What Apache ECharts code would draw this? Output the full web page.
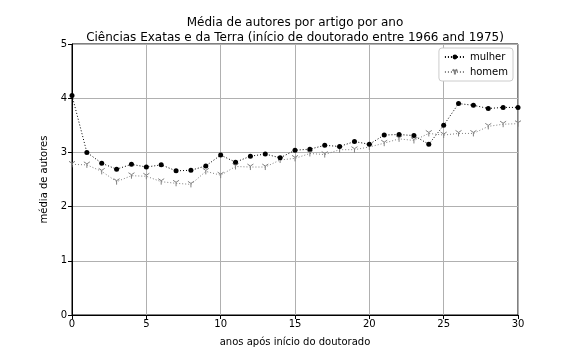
<!DOCTYPE html>
<html>
<head>
<meta charset="utf-8">
<script src="https://cdn.jsdelivr.net/npm/echarts@6/dist/echarts.min.js"></script>
<style>
  html, body { margin: 0; padding: 0; background: #fff; }
  #chart { width: 576px; height: 360px; }
</style>
</head>
<body>
<div id="chart"></div>
<script>
// anos apos inicio do doutorado
var anos = [0, 1, 2, 3, 4, 5, 6, 7, 8, 9, 10, 11, 12, 13, 14, 15,
  16, 17, 18, 19, 20, 21, 22, 23, 24, 25, 26, 27, 28, 29, 30]
var mulher = [4.05, 3.0, 2.80, 2.69, 2.78, 2.73, 2.77, 2.66, 2.67, 2.75, 2.95,
  2.82, 2.93, 2.97, 2.90, 3.04, 3.06, 3.13, 3.11, 3.20, 3.15,
  3.32, 3.33, 3.31, 3.15, 3.50, 3.90, 3.87, 3.81, 3.83, 3.83]
var homem = [2.78, 2.77, 2.65, 2.46, 2.57, 2.56, 2.46, 2.43, 2.41, 2.65, 2.58,
  2.74, 2.73, 2.73, 2.86, 2.89, 2.98, 2.96, 3.05, 3.05, 3.10,
  3.17, 3.25, 3.22, 3.35, 3.32, 3.35, 3.35, 3.48, 3.52, 3.53]

function pares(ys) {
  return anos.map(function(x, i) { return [x, ys[i]] })
}

var fonte = 'DejaVu Sans'
var triDown = 'path://M5,5 L5,10 M5,5 L0.67,2.5 M5,5 L9.33,2.5'

var myChart = echarts.init(document.getElementById('chart'))
myChart.setOption({
  backgroundColor: '#fff',
  animation: false,
  textStyle: { fontFamily: fonte },
  title: {
    text: 'Média de autores por artigo por ano\nCiências Exatas e da Terra (início de doutorado entre 1966 and 1975)',
    left: 290,
    top: 10,
    textAlign: 'center',
    textStyle: {
      fontFamily: fonte,
      fontSize: 12,
      fontWeight: 'normal',
      color: '#000',
      lineHeight: 15
    }
  },
  grid: {
    left: 72,
    right: 58,
    top: 44,
    bottom: 45,
    show: true,
    borderColor: '#000',
    borderWidth: 1
  },
  legend: {
    right: 63,
    top: 48,
    orient: 'vertical',
    backgroundColor: '#fff',
    borderColor: '#ccc',
    borderWidth: 1,
    borderRadius: 3,
    padding: [4, 5, 4, 5],
    itemGap: 5,
    itemWidth: 20,
    itemHeight: 6,
    textStyle: { fontFamily: fonte, fontSize: 10, color: '#000' },
    data: ['mulher', 'homem']
  },
  xAxis: {
    type: 'value',
    min: 0,
    max: 30,
    interval: 5,
    name: 'anos após início do doutorado',
    nameLocation: 'middle',
    nameGap: 22,
    nameTextStyle: { fontFamily: fonte, fontSize: 10, color: '#000' },
    axisLine: { show: true, onZero: false, lineStyle: { color: '#000', width: 1 } },
    axisTick: { show: true, length: 4, lineStyle: { color: '#000' } },
    axisLabel: { fontFamily: fonte, fontSize: 10, color: '#000', margin: 4 },
    splitLine: { show: true, lineStyle: { color: '#b0b0b0', width: 1 } }
  },
  yAxis: {
    type: 'value',
    min: 0,
    max: 5,
    interval: 1,
    name: 'média de autores',
    nameLocation: 'middle',
    nameGap: 14,
    nameTextStyle: { fontFamily: fonte, fontSize: 10, color: '#000' },
    axisLine: { show: true, lineStyle: { color: '#000', width: 1 } },
    axisTick: { show: true, length: 4, lineStyle: { color: '#000' } },
    axisLabel: { fontFamily: fonte, fontSize: 10, color: '#000', margin: 5 },
    splitLine: { show: true, lineStyle: { color: '#b0b0b0', width: 1 } }
  },
  series: [{
    name: 'mulher',
    type: 'line',
    data: pares(mulher),
    symbol: 'circle',
    symbolSize: 5,
    itemStyle: { color: '#000' },
    lineStyle: { color: '#000', width: 1, type: [1, 2] },
    z: 3
  }, {
    name: 'homem',
    type: 'line',
    data: pares(homem),
    symbol: triDown,
    symbolSize: 6,
    itemStyle: { color: 'rgba(0,0,0,0)', borderColor: '#808080', borderWidth: 1 },
    lineStyle: { color: '#808080', width: 1, type: [1, 2] },
    z: 2
  }]
})
</script>
</body>
</html>
